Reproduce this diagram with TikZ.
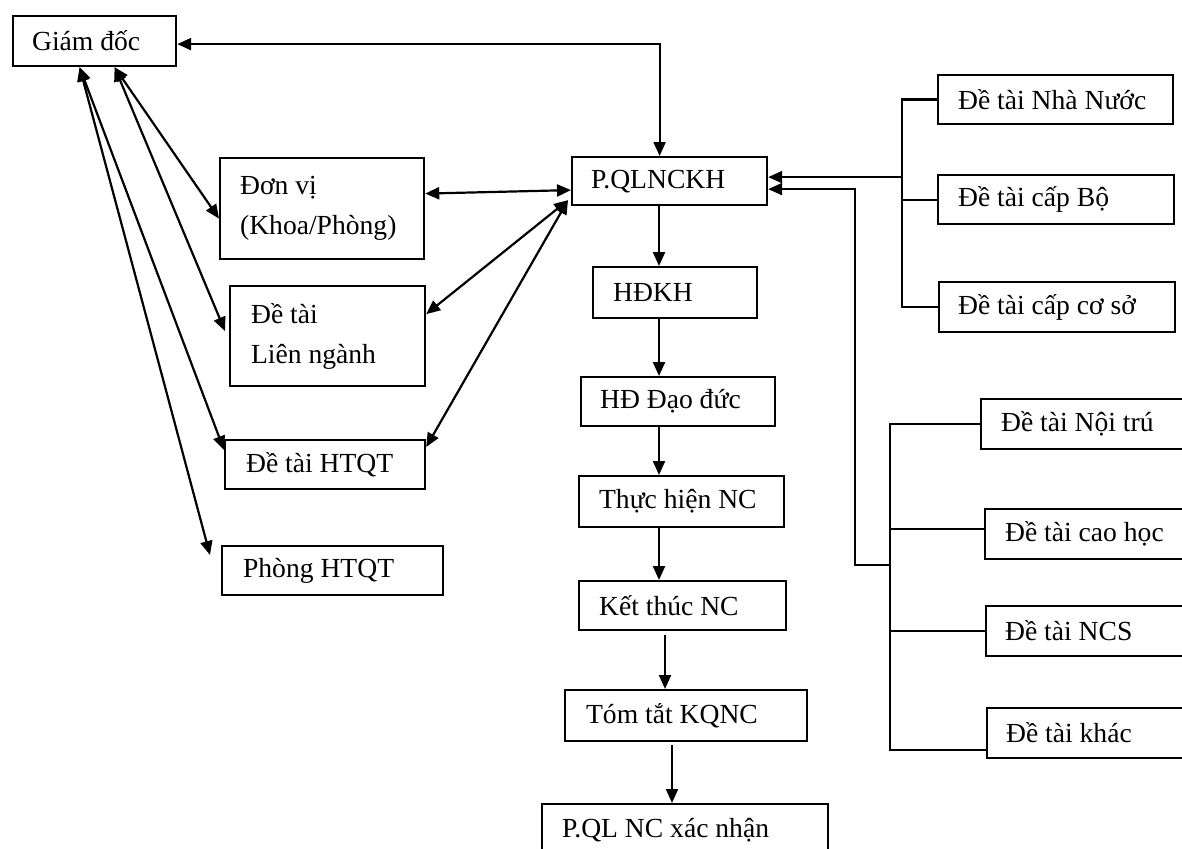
\documentclass[tikz,border=0pt]{standalone}
\usepackage{fontspec}
\setmainfont{Liberation Serif}
\usepackage{tikz}
\usetikzlibrary{arrows.meta,positioning,calc}

\begin{document}
\begin{tikzpicture}[x=1pt, y=-1pt,
    blk/.style={draw, line width=2.2pt, anchor=north west, align=flush left, inner ysep=0pt,
        font=\fontsize{27.6}{40}\selectfont},
    link/.style={line width=2.2pt},
    arr/.style={link, -{Triangle[length=14pt,width=12pt]}},
    darr/.style={link, {Triangle[length=14pt,width=12pt]}-{Triangle[length=14pt,width=12pt]}}]
    \useasboundingbox (0,0) rectangle (1182,848);
    \clip (0,0) rectangle (1182,848);

    % Left column
    \node[blk, inner xsep=19pt, text width=125pt, minimum height=50pt] (gd) at (12,15) {Giám đốc};
    \node[blk, inner xsep=20pt, text width=164pt, minimum height=101pt] (donvi) at (219,157) {Đơn vị\\(Khoa/Phòng)};
    \node[blk, inner xsep=21pt, text width=153pt, minimum height=100pt] (lienng) at (229,285) {Đề tài\\Liên ngành};
    \node[blk, inner xsep=21pt, text width=158pt, minimum height=49pt] (dthtqt) at (224,439) {Đề tài HTQT};
    \node[blk, inner xsep=21pt, text width=179pt, minimum height=49pt] (phtqt) at (221,545) {Phòng HTQT};

    % Middle column
    \node[blk, inner xsep=19pt, text width=157pt, minimum height=48pt] (qlnckh) at (571,156) {P.QLNCKH};
    \node[blk, inner xsep=20pt, text width=124pt, minimum height=51pt] (hdkh) at (592,266) {HĐKH};
    \node[blk, inner xsep=19pt, text width=156pt, minimum height=49pt] (hddd) at (580,376) {HĐ Đạo đức};
    \node[blk, inner xsep=20pt, text width=165pt, minimum height=51pt] (thnc) at (578,475) {Thực hiện NC};
    \node[blk, inner xsep=20pt, text width=167pt, minimum height=49pt] (ktnc) at (578,580) {Kết thúc NC};
    \node[blk, inner xsep=21pt, text width=200pt, minimum height=51pt] (tt) at (564,689) {Tóm tắt KQNC};
    \node[blk, inner xsep=20pt, text width=246pt, minimum height=52pt] (xn) at (541,803) {P.QL NC xác nhận};

    % Right column, upper group
    \node[blk, inner xsep=20pt, text width=195pt, minimum height=49pt] (nn) at (937,74) {Đề tài Nhà Nước};
    \node[blk, inner xsep=20pt, text width=196pt, minimum height=49pt] (bo) at (937,174) {Đề tài cấp Bộ};
    \node[blk, inner xsep=19pt, text width=198pt, minimum height=50pt] (cs) at (938,281) {Đề tài cấp cơ sở};

    % Right column, lower group
    \node[blk, inner xsep=20pt, text width=190pt, minimum height=50pt] (nt) at (980,398) {Đề tài Nội trú};
    \node[blk, inner xsep=20pt, text width=190pt, minimum height=50pt] (ch) at (984,508) {Đề tài cao học};
    \node[blk, inner xsep=19pt, text width=192pt, minimum height=50pt] (ncs) at (985,605) {Đề tài NCS};
    \node[blk, inner xsep=19pt, text width=192pt, minimum height=50pt] (khac) at (986,707) {Đề tài khác};

    % Giám đốc <-> P.QLNCKH
    \draw[darr] ([yshift=-3pt]gd.east) -| ([xshift=-10pt]qlnckh.north);

    % Giám đốc <-> left boxes
    \coordinate (ga) at ([xshift=-15pt]gd.south);
    \coordinate (gb) at ([xshift=20pt]gd.south);
    \draw[darr] (gb) -- ([yshift=-10pt]donvi.west);
    \draw[darr] (gb) -- ([xshift=-4pt,yshift=5pt]lienng.west);
    \draw[darr] (ga) -- ([yshift=-11pt]dthtqt.north west);
    \draw[darr] (ga) -- ([xshift=-11pt,yshift=-10pt]phtqt.north west);

    % P.QLNCKH <-> left boxes
    \coordinate (qc) at ([xshift=-3pt,yshift=6pt]qlnckh.south west);
    \draw[darr] ([yshift=15pt]donvi.east) -- ([yshift=-9pt]qlnckh.west);
    \draw[darr] (qc) -- ([yshift=22pt]lienng.east);
    \draw[darr] (qc) -- ([yshift=-8pt]dthtqt.north east);

    % Main flow
    \coordinate (sp) at (659,0);
    \coordinate (sq) at (665,0);
    \coordinate (sr) at (672,0);
    \draw[arr] (qlnckh.south -| sp) -- (hdkh.north -| sp);
    \draw[arr] (hdkh.south -| sp) -- (hddd.north -| sp);
    \draw[arr] (hddd.south -| sp) -- (thnc.north -| sp);
    \draw[arr] (thnc.south -| sp) -- (ktnc.north -| sp);
    \draw[arr, shorten <=4pt] (ktnc.south -| sq) -- (tt.north -| sq);
    \draw[arr, shorten <=3pt] (tt.south -| sr) -- (xn.north -| sr);

    % Upper bracket
    \coordinate (ub) at ([xshift=-35pt]nn.west);
    \coordinate (qe1) at ([yshift=4pt]qlnckh.east);
    \draw[link] (nn.west) -- (ub) |- (cs.west);
    \draw[link] (bo.west) -- (bo.west -| ub);
    \draw[arr] (qe1 -| ub) -- (qe1);

    % Lower bracket
    \coordinate (lb) at ([xshift=-90pt]nt.west);
    \coordinate (kw) at ([yshift=-17pt]khac.west);
    \coordinate (qe2) at ([yshift=-8pt]qlnckh.east);
    \coordinate (lv) at (855,565);
    \draw[link] (nt.west) -- (lb) |- (kw);
    \draw[link] ([yshift=5pt]ch.west) -- ([yshift=5pt]ch.west -| lb);
    \draw[link] (ncs.west) -- (ncs.west -| lb);
    \draw[arr] (lv -| lb) -- (lv) -- (lv |- qe2) -- (qe2);
\end{tikzpicture}
\end{document}
